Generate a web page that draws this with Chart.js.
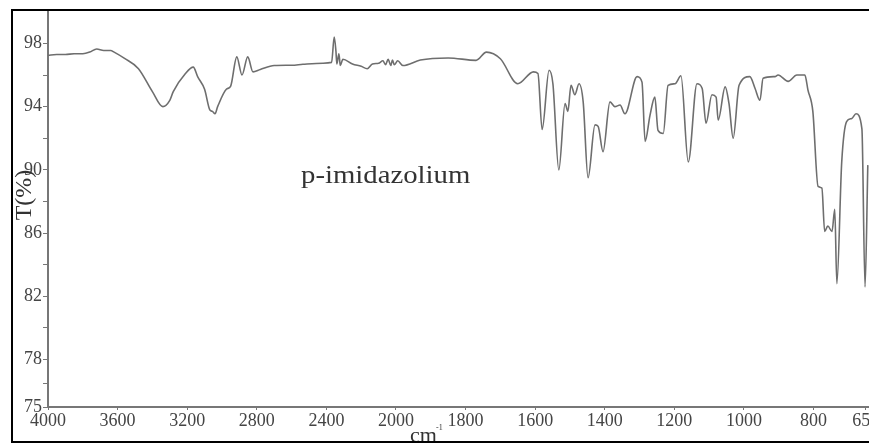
<!DOCTYPE html>
<html lang="en">
<head>
<meta charset="UTF-8">
<title>p-imidazolium IR spectrum</title>
<script src="https://cdn.jsdelivr.net/npm/chart.js"></script>
<style>
    html, body { margin: 0; padding: 0; background: #fff; overflow: hidden; }
    .wrap { position: absolute; left: 0; top: 0; width: 920px; height: 445px; }
</style>
</head>
<body>
<div class="wrap"><canvas id="irChart"></canvas></div>
<script>
// wavenumber (cm-1) and transmittance (%)
const wavenumbers = [
    4000, 3950, 3900, 3850, 3800, 3760, 3720, 3680, 3640, 3620, 3560, 3480, 3400, 3340, 3300, 3280,
    3210, 3165, 3140, 3100, 3070, 3055, 3040, 3025, 2975, 2950, 2915, 2885, 2852, 2822, 2780, 2700,
    2600, 2535, 2420, 2370, 2355, 2345, 2340, 2328, 2320, 2305, 2250, 2200, 2165, 2135, 2100, 2075,
    2060, 2045, 2030, 2020, 2010, 1995, 1980, 1930, 1850, 1770, 1740, 1700, 1650, 1605, 1592, 1580,
    1560, 1549, 1532, 1514, 1506, 1497, 1486, 1474, 1462, 1448, 1428, 1419, 1405, 1385, 1371, 1356,
    1342, 1307, 1293, 1284, 1270, 1256, 1247, 1232, 1218, 1198, 1181, 1160, 1135, 1120, 1109, 1092,
    1080, 1074, 1054, 1043, 1031, 1014, 983, 968, 954, 945, 911, 902, 873, 848, 825, 816,
    802, 787, 776, 768, 759, 747, 739, 733, 719, 705, 690, 678, 661, 652, 644
];
const transmittance = [
    97.25, 97.3, 97.3, 97.35, 97.35, 97.45, 97.65, 97.55, 97.55, 97.45, 97.05, 96.4, 94.95, 94.0, 94.4, 94.95,
    96.1, 96.5, 95.9, 95.1, 93.8, 93.7, 93.55, 94.0, 95.1, 95.3, 97.15, 96.0, 97.15, 96.2, 96.35, 96.6,
    96.62, 96.68, 96.75, 96.8, 98.4, 97.5, 96.7, 97.35, 96.6, 97.0, 96.7, 96.55, 96.4, 96.7, 96.75, 96.9,
    96.65, 97.0, 96.6, 96.95, 96.65, 96.9, 96.6, 96.95, 97.08, 96.93, 97.45, 97.03, 95.45, 96.2, 96.1, 92.55,
    96.3, 95.45, 90.0, 94.2, 93.7, 95.35, 94.75, 95.45, 94.3, 89.5, 92.85, 92.75, 91.15, 94.3, 94.0, 94.1,
    93.55, 95.9, 95.55, 91.8, 93.45, 94.6, 92.5, 92.3, 95.35, 95.45, 95.95, 90.5, 95.45, 95.15, 92.95, 94.75,
    94.6, 93.15, 95.25, 94.2, 92.0, 95.35, 95.9, 95.15, 94.4, 95.8, 95.9, 96.0, 95.6, 96.0, 96.0, 95.05,
    93.7, 88.95, 88.85, 86.1, 86.45, 86.1, 87.5, 82.8, 90.5, 93.05, 93.25, 93.55, 92.6, 82.6, 90.3
];
const xTickLabels = [4000, 3600, 3200, 2800, 2400, 2000, 1800, 1600, 1400, 1200, 1000, 800, 650];
const yTicks = [75, 76.5, 78, 80, 82, 84, 86, 88, 90, 92, 94, 96, 98];
const yTickLabels = [75, 78, 82, 86, 90, 94, 98];

// axis is compressed by 2 above 2000 cm-1
function toPos(wn) {
    return wn >= 2000 ? (4000 - wn) / 2 : 1000 + (2000 - wn);
}

const serif = '"Liberation Serif", "Times New Roman", serif';

const overlay = {
    id: 'overlay',
    afterDraw(chart) {
        const ctx = chart.ctx;
        ctx.save();
        ctx.fillStyle = '#333';

        // label is a bit stretched in the original
        ctx.save();
        ctx.translate(301, 183);
        ctx.scale(1.15, 1);
        ctx.font = '25px ' + serif;
        ctx.fillText('p-imidazolium', 0, 0);
        ctx.restore();

        ctx.font = '22px ' + serif;
        ctx.fillText('cm', 410, 442);
        ctx.font = '8px ' + serif;
        ctx.fillText('-1', 436, 430);

        ctx.save();
        ctx.translate(31, 195);
        ctx.rotate(-Math.PI / 2);
        ctx.textAlign = 'center';
        ctx.font = '24px ' + serif;
        ctx.fillText('T(%)', 0, 0);
        ctx.restore();

        ctx.strokeStyle = '#000';
        ctx.lineWidth = 2;
        ctx.strokeRect(12, 10, 1000, 432);
        ctx.restore();
    }
};

new Chart(document.getElementById('irChart'), {
    type: 'line',
    data: {
        datasets: [{
            data: wavenumbers.map((w, i) => ({ x: toPos(w), y: transmittance[i] })),
            borderColor: '#6e6e6e',
            borderWidth: 1.6,
            pointRadius: 0,
            cubicInterpolationMode: 'monotone',
            fill: false
        }]
    },
    options: {
        responsive: true,
        maintainAspectRatio: false,
        animation: false,
        layout: { padding: { left: 0, top: 10, right: 40, bottom: 0 } },
        plugins: { legend: { display: false }, tooltip: { enabled: false } },
        scales: {
            x: {
                type: 'linear',
                min: 0,
                max: 2391,
                afterFit(scale) { scale.height = 38; },
                afterBuildTicks(scale) {
                    scale.ticks = xTickLabels.map(v => ({ value: toPos(v) }));
                },
                ticks: {
                    autoSkip: false,
                    maxRotation: 0,
                    padding: 0,
                    color: '#444',
                    font: { family: serif, size: 18 },
                    callback: (val, i) => xTickLabels[i]
                },
                grid: { drawOnChartArea: false, tickLength: 3, tickColor: '#777' },
                border: { color: '#777', width: 2 }
            },
            y: {
                min: 75,
                max: 100,
                afterFit(scale) { scale.width = 48; },
                afterBuildTicks(scale) {
                    scale.ticks = yTicks.map(v => ({ value: v }));
                },
                ticks: {
                    autoSkip: false,
                    padding: 1,
                    color: '#444',
                    font: { family: serif, size: 18 },
                    callback: v => yTickLabels.includes(v) ? v : ''
                },
                grid: { drawOnChartArea: false, tickLength: 5, tickColor: '#777' },
                border: { color: '#777', width: 2 }
            }
        }
    },
    plugins: [overlay]
});
</script>
</body>
</html>
